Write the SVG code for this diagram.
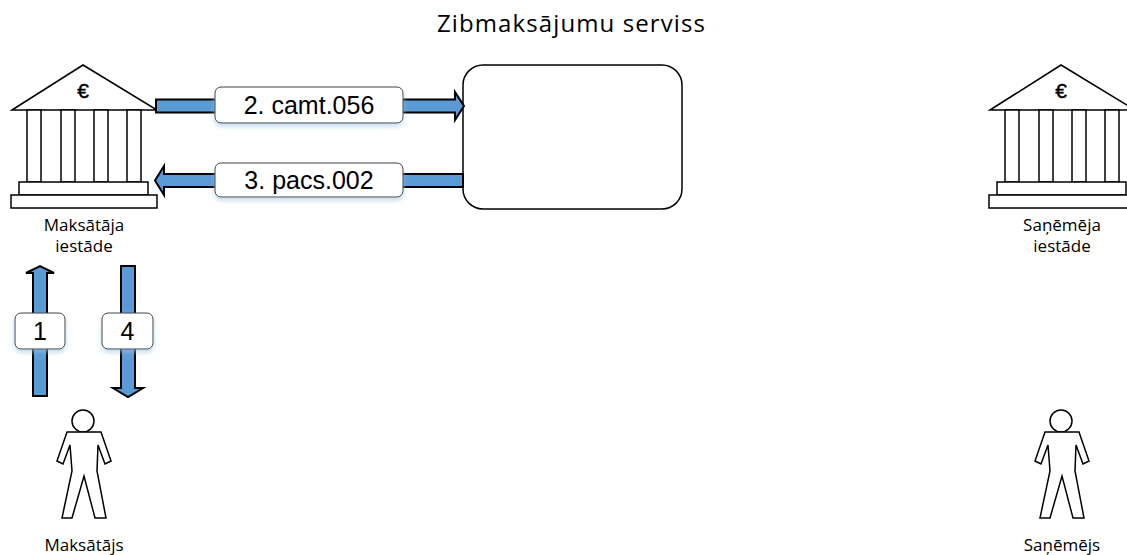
<svg xmlns="http://www.w3.org/2000/svg" width="1127" height="555" viewBox="0 0 1127 555">
<style>
.ln{stroke:#000;stroke-width:1.5;fill:#fff}
.arr{fill:#5b9bd5;stroke:#000;stroke-width:2;stroke-linejoin:miter}
.lbl{fill:#fff;stroke:#404040;stroke-width:1}
.lt{font-family:"Liberation Sans",Arial,sans-serif;font-size:25px;fill:#000;text-anchor:middle}
.st{font-family:"Open Sans","Noto Sans",sans-serif;font-size:17px;fill:#000;text-anchor:middle}
.eu{font-family:"Liberation Sans",Arial,sans-serif;font-size:21px;fill:#000;stroke:#000;stroke-width:0.4;text-anchor:middle}
.tt{font-family:"Open Sans","Noto Sans",sans-serif;font-size:24px;fill:#000}
</style>
<defs>
<filter id="glow" x="-20%" y="-30%" width="140%" height="170%">
<feDropShadow dx="0" dy="3" stdDeviation="2.5" flood-color="#9dc3e6" flood-opacity="0.6"/>
</filter>
<g id="bank">
<polygon class="ln" points="12,110 83,65 157,110"/>
<rect class="ln" x="27" y="110" width="14" height="72"/>
<rect class="ln" x="61" y="110" width="14" height="72"/>
<rect class="ln" x="94" y="110" width="14" height="72"/>
<rect class="ln" x="127" y="110" width="14" height="72"/>
<rect class="ln" x="19" y="182" width="129" height="13"/>
<rect class="ln" x="11" y="195" width="146" height="13"/>
<text class="eu" x="83" y="98">€</text>
</g>
<g id="person">
<circle class="ln" cx="83" cy="421" r="11"/>
<polygon class="ln" points="67,432 57,461 63,464 70,445 72,471 62,518 72,518 84,476 95,518 106,518 97,471 98,445 105,464 111,461 101,432"/>
</g>
</defs>

<text class="tt" x="437" y="32" textLength="268" lengthAdjust="spacing">Zibmaksājumu serviss</text>

<g id="payer-bank">
<use href="#bank"/>
<text class="st" x="84" y="231">Maksātāja</text>
<text class="st" x="84" y="252">iestāde</text>
</g>

<g id="payee-bank">
<use href="#bank" transform="translate(978,0)"/>
<text class="st" x="1062" y="231">Saņēmēja</text>
<text class="st" x="1062" y="252">iestāde</text>
</g>

<g id="service">
<rect class="ln" x="463" y="65" width="219" height="144" rx="20" ry="20"/>
</g>

<g id="payer">
<use href="#person"/>
<text class="st" x="84" y="551">Maksātājs</text>
</g>

<g id="payee">
<use href="#person" transform="translate(978,0)"/>
<text class="st" x="1062" y="551">Saņēmējs</text>
</g>

<g id="connectors">
<path class="arr" d="M156,99.5 H455 V92 L464,106 L455,120 V112.5 H156 Z"/>
<path class="arr" d="M463,174 H164 V166 L155,180.5 L164,195 V187 H463 Z"/>
<path class="arr" d="M33,396 V273 H26 L40,266 L54,273 H47 V396 Z"/>
<path class="arr" d="M121,266 V388 H113 L128,397 L143,388 H135 V266 Z"/>
</g>

<g id="labels">
<g id="lbl2">
<rect class="lbl" x="215" y="87" width="188" height="36" rx="6" filter="url(#glow)"/>
<text class="lt" x="309" y="114">2. camt.056</text>
</g>
<g id="lbl3">
<rect class="lbl" x="215" y="163" width="188" height="34" rx="6" filter="url(#glow)"/>
<text class="lt" x="309" y="189">3. pacs.002</text>
</g>
<g id="lbl1">
<rect class="lbl" x="15" y="313" width="50" height="36" rx="6" filter="url(#glow)"/>
<text class="lt" x="40" y="340">1</text>
</g>
<g id="lbl4">
<rect class="lbl" x="102" y="313" width="51" height="36" rx="6" filter="url(#glow)"/>
<text class="lt" x="127.5" y="340">4</text>
</g>
</g>
</svg>
